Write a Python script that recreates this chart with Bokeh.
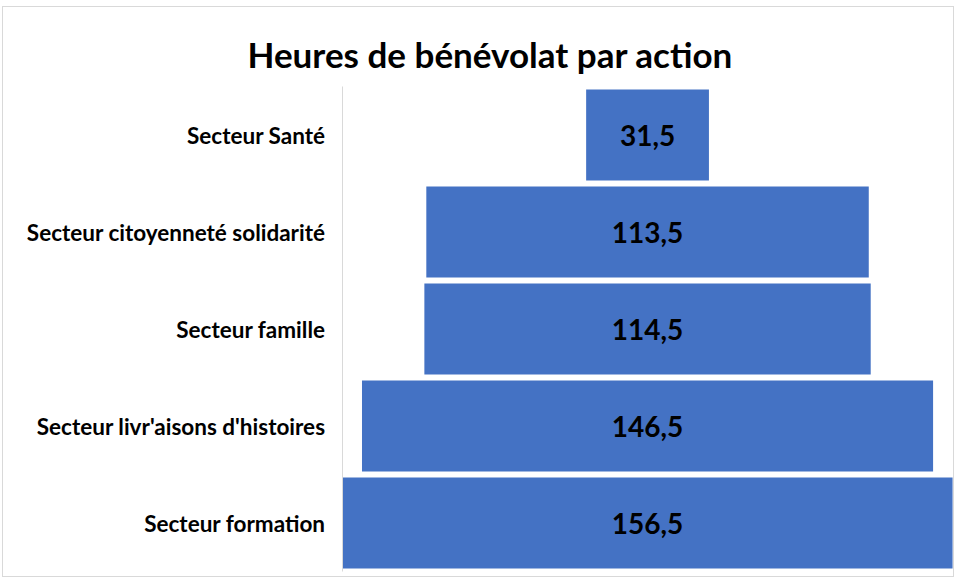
from bokeh.plotting import figure
from bokeh.models import Range1d, ColumnDataSource
from bokeh.core.properties import value
from bokeh.embed import file_html
from bokeh.resources import INLINE

categories = ["Secteur Santé", "Secteur citoyenneté solidarité", "Secteur famille",
              "Secteur livr'aisons d'histoires", "Secteur formation"]
hours = [31.5, 113.5, 114.5, 146.5, 156.5]
labels = ["31,5", "113,5", "114,5", "146,5", "156,5"]

FONT = "Lato"
BLUE = "#4472C4"

src = ColumnDataSource(dict(
    cat=categories,
    left=[-v / 2 for v in hours],
    right=[v / 2 for v in hours],
    mid=[0.0 for _ in hours],
    lab=labels,
))

p = figure(width=952, height=571, output_backend="svg", toolbar_location=None,
           y_range=list(reversed(categories)), x_range=Range1d(-78.25, 79.0),
           min_border_left=339, min_border_right=0, min_border_top=79, min_border_bottom=7,
           title="Heures de bénévolat par action")
p.styles = {"border": "1px solid #d9d9d9", "margin-left": "2px", "margin-top": "6px"}

p.hbar(y="cat", left="left", right="right", height=0.94, source=src,
       fill_color=BLUE, line_color=None)
p.text(x="mid", y="cat", text="lab", source=src, text_align="center", text_baseline="middle",
       text_font=value(FONT), text_font_style="bold", text_font_size="28px", text_color="#000000")

p.title.text_font = FONT
p.title.text_font_size = "35px"
p.title.text_font_style = "bold"
p.title.text_color = "#000000"
p.title.align = "left"
p.title.offset = -95
p.title.standoff = 24

p.xaxis.visible = False
p.grid.visible = False
p.outline_line_color = None
ax = p.yaxis[0]
ax.axis_line_color = "#d9d9d9"
ax.axis_line_width = 1
ax.major_tick_line_color = None
ax.minor_tick_line_color = None
ax.major_tick_out = 0
ax.major_label_standoff = 17
ax.major_label_text_font = FONT
ax.major_label_text_font_style = "bold"
ax.major_label_text_font_size = "22.5px"
ax.major_label_text_color = "#000000"

open("out.html", "w").write(file_html(p, INLINE))
